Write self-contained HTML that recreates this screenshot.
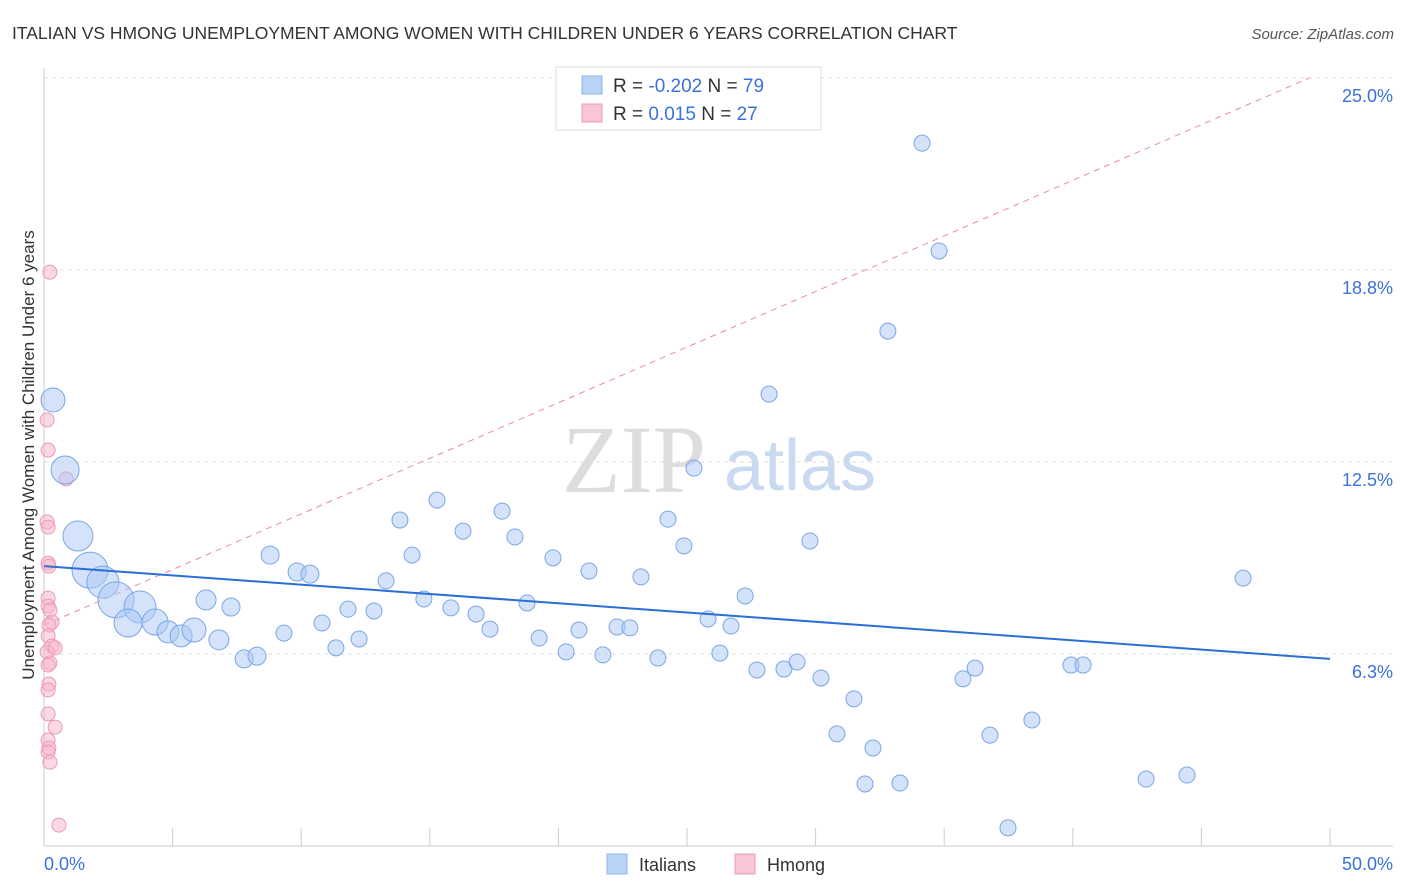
<!DOCTYPE html>
<html><head><meta charset="utf-8"><style>
body{margin:0;background:#fff;font-family:"Liberation Sans",sans-serif;}
svg{display:block}
</style></head><body>
<svg id="chart" width="1406" height="892" viewBox="0 0 1406 892">
<text x="12" y="39" font-size="17.5" fill="#333">ITALIAN VS HMONG UNEMPLOYMENT AMONG WOMEN WITH CHILDREN UNDER 6 YEARS CORRELATION CHART</text>
<text x="1394" y="39" font-size="15" fill="#555" font-style="italic" text-anchor="end">Source: ZipAtlas.com</text>
<g>
<text x="634" y="492" font-size="96" fill="#ddd" font-family="Liberation Serif,serif" text-anchor="middle">ZIP</text>
<text x="800" y="490" font-size="72" fill="#c9d9ef" text-anchor="middle">atlas</text>
</g>
<g id="grid"></g>
<g id="axes"></g>
<g id="marks"></g>
<g>
<rect x="556" y="67" width="265" height="63" fill="#fff" stroke="#ddd"/>
<rect x="582" y="76" width="20" height="18" fill="#b8d3f5" stroke="#8ab4ea"/>
<text x="613" y="92" font-size="19" fill="#333">R = <tspan fill="#3a72d8">-0.202</tspan>   N = <tspan fill="#3a72d8">79</tspan></text>
<rect x="582" y="104" width="20" height="18" fill="#f8c6d4" stroke="#eb9ab2"/>
<text x="613" y="120" font-size="19" fill="#333">R = <tspan fill="#3a72d8">  0.015</tspan>   N = <tspan fill="#3a72d8">27</tspan></text>
</g>
<g>
<rect x="607" y="854" width="20" height="20" fill="#b8d3f5" stroke="#8ab4ea"/>
<text x="639" y="871" font-size="18" fill="#333">Italians</text>
<rect x="735" y="854" width="20" height="20" fill="#f8c6d4" stroke="#eb9ab2"/>
<text x="767" y="871" font-size="18" fill="#333">Hmong</text>
</g>
<text transform="translate(34,455) rotate(-90)" font-size="17" fill="#333" text-anchor="middle">Unemployment Among Women with Children Under 6 years</text>
</svg>
<script>
const yTicks=[6.25,12.5,18.75,25];
const yTickLabels=["6.3%","12.5%","18.8%","25.0%"];
const itX=[0.35,0.82,1.32,1.79,2.29,2.80,3.73,3.27,4.32,4.82,5.33,5.83,6.30,6.80,7.27,7.78,8.28,8.79,9.33,9.84,10.34,10.81,11.35,11.82,12.25,12.83,13.30,13.84,14.31,14.77,15.28,15.82,16.29,16.80,17.34,17.81,18.31,18.78,19.25,19.79,20.30,20.80,21.19,21.73,22.28,22.78,23.21,23.87,24.26,24.88,25.27,25.82,26.28,26.71,27.26,27.72,28.19,28.77,29.28,29.78,30.21,30.83,31.49,31.92,32.23,32.81,33.28,34.14,34.80,35.73,36.20,36.78,37.48,38.41,39.93,40.40,42.85,44.44,46.62];
const itY=[14.52,12.24,10.09,8.98,8.59,8.01,7.78,7.26,7.29,6.97,6.84,7.03,8.01,6.71,7.78,6.09,6.18,9.47,6.93,8.92,8.85,7.26,6.45,7.71,6.74,7.65,8.63,10.61,9.47,8.04,11.26,7.75,10.25,7.55,7.06,10.90,10.06,7.91,6.77,9.38,6.32,7.03,8.95,6.22,7.13,7.10,8.76,6.12,10.64,9.77,12.30,7.39,6.28,7.16,8.14,5.73,14.71,5.76,5.99,9.93,5.47,3.65,4.79,2.02,3.19,16.76,2.05,22.88,19.37,5.44,5.79,3.61,0.59,4.10,5.89,5.89,2.18,2.31,8.72];
const itW=[12,14,15,18,16,18,16,14,13,11,11,12,10,10,9,9,9,9,8,9,9];
const hmX=[0.23,0.12,0.16,0.86,0.12,0.16,0.16,0.19,0.16,0.16,0.23,0.31,0.19,0.16,0.31,0.12,0.43,0.23,0.16,0.19,0.16,0.16,0.43,0.16,0.19,0.16,0.23,0.58];
const hmY=[18.68,13.87,12.89,11.95,10.55,10.38,9.21,9.11,8.07,7.81,7.68,7.29,7.19,6.84,6.51,6.32,6.45,5.96,5.89,5.27,5.08,4.30,3.87,3.45,3.19,3.06,2.73,0.68];
const itTrend=[9.11,6.09];
const hmTrend=[7.19,25];
const X=v=>44+v*25.72, Y=v=>846-v*30.72;
const NS="http://www.w3.org/2000/svg";
function mk(p,t,a){const e=document.createElementNS(NS,t);for(const k in a)e.setAttribute(k,a[k]);p.appendChild(e);return e;}
const grid=document.getElementById('grid'),axes=document.getElementById('axes'),marks=document.getElementById('marks');
yTicks.forEach((t,i)=>{
 const l=mk(grid,'line',{x1:44,x2:1393,y1:Y(t),y2:Y(t),stroke:'#ddd','stroke-dasharray':'4,4'});
 
 
 const tx=mk(axes,'text',{x:1393,y:Y(t)+24,'font-size':18,fill:'#3a72d8','text-anchor':'end'});
 tx.textContent=yTickLabels[i];
 
 
});
let a=mk(axes,'line',{x1:44,x2:44,y1:68,y2:846,stroke:'#ccc'});


a=mk(axes,'line',{x1:44,x2:1393,y1:846,y2:846,stroke:'#ccc'});


for(let i=1;i<=10;i++){const tk=mk(axes,'line',{x1:X(i*5),x2:X(i*5),y1:828,y2:846,stroke:'#ccc'});
 
 }
let t=mk(axes,'text',{x:44,y:870,'font-size':18,fill:'#3a72d8'});t.textContent='0.0%';


t=mk(axes,'text',{x:1393,y:870,'font-size':18,fill:'#3a72d8','text-anchor':'end'});t.textContent='50.0%';


let ln=mk(marks,'line',{x1:X(0),y1:Y(hmTrend[0]),x2:X(49.2),y2:Y(hmTrend[1]),stroke:'#e88aa6','stroke-dasharray':'6,5','stroke-width':1});


hmX.forEach((v,i)=>{const c=mk(marks,'circle',{cx:X(v),cy:Y(hmY[i]),r:7,fill:'rgba(248,180,200,0.5)',stroke:'#eb9ab2'});
 
 });
itX.forEach((v,i)=>{const c=mk(marks,'circle',{cx:X(v),cy:Y(itY[i]),r:itW[i]||8,fill:'rgba(170,200,245,0.5)',stroke:'#7aa6e6'});
 
 });
ln=mk(marks,'line',{x1:X(0),y1:Y(itTrend[0]),x2:X(50),y2:Y(itTrend[1]),stroke:'#2a6fd6','stroke-width':2});


</script>
</body></html>
